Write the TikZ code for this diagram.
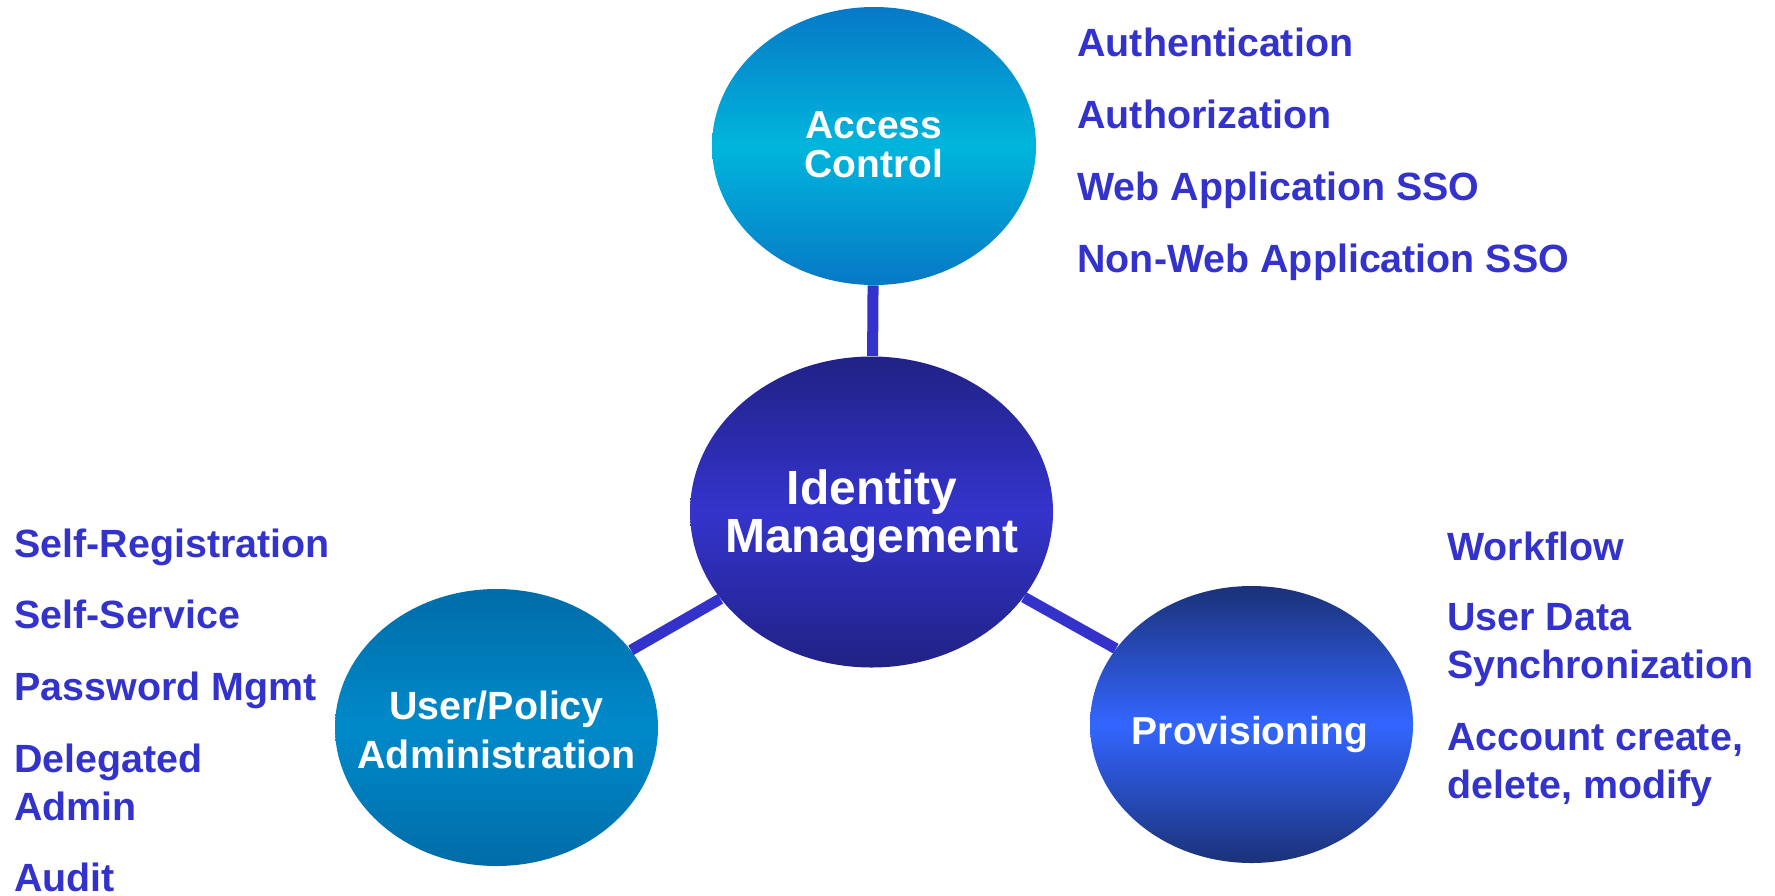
\documentclass[tikz,border=0pt]{standalone}
\usepackage{fontspec}
\setmainfont{Liberation Sans}
\usetikzlibrary{shapes.geometric}
\definecolor{txtblue}{HTML}{3333CC}
\definecolor{accTop}{HTML}{0778C6}
\definecolor{accMid}{HTML}{00B6DC}
\definecolor{idmTop}{HTML}{212186}
\definecolor{idmMid}{HTML}{3434CC}
\definecolor{usrTop}{HTML}{006CA8}
\definecolor{usrMid}{HTML}{008ACA}
\definecolor{prvTop}{HTML}{1B3178}
\definecolor{prvMid}{HTML}{3366FF}
\tikzset{
  bubble/.style={ellipse, inner sep=0pt},
  bubtext/.style={anchor=base, inner sep=0pt, text=white, align=center},
  conn/.style={draw=txtblue, line width=5.5pt},
  item/.style={anchor=base west, inner sep=0pt, text=txtblue, align=left,
    font=\fontsize{19.7}{24}\selectfont\bfseries},
}
\begin{document}
\begin{tikzpicture}[x=0.5pt,y=-0.5pt]
\useasboundingbox (0,0) rectangle (1775,895);
% bubbles
\node[bubble, minimum width=162pt, minimum height=139pt,
  top color=accTop, bottom color=accTop, middle color=accMid] (acc) at (874,146) {};
\node[bubble, minimum width=181.5pt, minimum height=155.5pt,
  top color=idmTop, bottom color=idmTop, middle color=idmMid] (idm) at (871.5,512) {};
\node[bubble, minimum width=161.5pt, minimum height=138.5pt,
  top color=usrTop, bottom color=usrTop, middle color=usrMid] (usr) at (496.5,727.5) {};
\node[bubble, minimum width=161.5pt, minimum height=138.5pt,
  top color=prvTop, bottom color=prvTop, middle color=prvMid] (prv) at (1251.5,724.5) {};
% bubble texts (anchored at baseline of last line)
\node[bubtext, font=\fontsize{19.5}{19.5}\selectfont\bfseries] (acct) at (874,177) {Access\\Control};
\node[bubtext, font=\fontsize{24}{24}\selectfont\bfseries] (idmt) at (872,552) {Identity\\Management};
\node[bubtext, font=\fontsize{19.7}{24.5}\selectfont\bfseries] (usrt) at (496.5,768) {User/Policy\\Administration};
\node[bubtext, font=\fontsize{19.5}{19.5}\selectfont\bfseries] (prvt) at (1250,744) {Provisioning};
% connectors
\draw[conn] (idm) -- (acc);
\draw[conn] (idm) -- (usr);
\draw[conn] (idm) -- (prv);
% access control items
\node[item] (a1) at (1077,56) {Authentication};
\node[item] (a2) at (1077,128) {Authorization};
\node[item] (a3) at (1077,200) {Web Application SSO};
\node[item] (a4) at (1077,272) {Non-Web Application SSO};
% user/policy items
\node[item] (u1) at (14,557) {Self-Registration};
\node[item] (u2) at (14,628) {Self-Service};
\node[item] (u3) at (14,700) {Password Mgmt};
\node[item] (u4) at (14,820) {Delegated\\Admin};
\node[item] (u5) at (14,891) {Audit};
% provisioning items
\node[item] (p1) at (1447,560) {Workflow};
\node[item] (p2) at (1447,678) {User Data\\Synchronization};
\node[item] (p3) at (1447,798) {Account create,\\delete, modify};
\end{tikzpicture}
\end{document}
